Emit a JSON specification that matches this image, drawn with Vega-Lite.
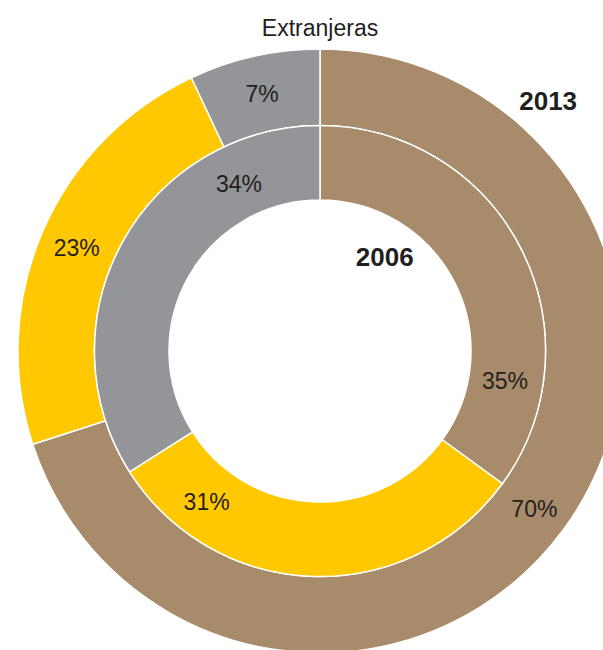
{
  "$schema": "https://vega.github.io/schema/vega-lite/v6.json",
  "autosize": {"type": "none"},
  "padding": 0,
  "width": 640,
  "height": 702,
  "background": "white",
  "config": {"view": {"stroke": null}},
  "datasets": {
    "y2013": [
      {"grupo": "Grupo 1", "pct": 70},
      {"grupo": "Grupo 2", "pct": 23},
      {"grupo": "Grupo 3", "pct": 7}
    ],
    "y2006": [
      {"grupo": "Grupo 1", "pct": 35},
      {"grupo": "Grupo 2", "pct": 31},
      {"grupo": "Grupo 3", "pct": 34}
    ],
    "titles": [{"t": "Extranjeras"}],
    "l2013": [{"t": "2013"}],
    "l2006": [{"t": "2006"}]
  },
  "layer": [
    {
      "data": {"name": "y2013"},
      "mark": {"type": "arc", "radius": 302, "radius2": 225.5, "stroke": "white", "strokeWidth": 1.5},
      "encoding": {
        "theta": {"field": "pct", "type": "quantitative", "stack": true, "scale": {"domain": [0, 100]}},
        "order": {"field": "grupo", "type": "nominal"},
        "color": {"field": "grupo", "type": "nominal", "legend": null,
          "scale": {"domain": ["Grupo 1", "Grupo 2", "Grupo 3"], "range": ["#A88B6A", "#FFC800", "#939598"]}}
      }
    },
    {
      "data": {"name": "y2006"},
      "mark": {"type": "arc", "radius": 225.5, "radius2": 151, "stroke": "white", "strokeWidth": 1.5},
      "encoding": {
        "theta": {"field": "pct", "type": "quantitative", "stack": true, "scale": {"domain": [0, 100]}},
        "order": {"field": "grupo", "type": "nominal"},
        "color": {"field": "grupo", "type": "nominal", "legend": null,
          "scale": {"domain": ["Grupo 1", "Grupo 2", "Grupo 3"], "range": ["#A88B6A", "#FFC800", "#939598"]}}
      }
    },
    {
      "data": {"name": "y2013"},
      "transform": [{"calculate": "datum.pct + '%'", "as": "lbl"}],
      "mark": {"type": "text", "radius": 265, "dy": 3, "font": "Liberation Sans", "fontSize": 23, "color": "#231F20"},
      "encoding": {
        "theta": {"field": "pct", "type": "quantitative", "stack": true, "scale": {"domain": [0, 100]}},
        "order": {"field": "grupo", "type": "nominal"},
        "text": {"field": "lbl"}
      }
    },
    {
      "data": {"name": "y2006"},
      "transform": [{"calculate": "datum.pct + '%'", "as": "lbl"}],
      "mark": {"type": "text", "radius": 187, "dy": 3, "thetaOffset": 0.62, "font": "Liberation Sans", "fontSize": 23, "color": "#231F20"},
      "encoding": {
        "theta": {"field": "pct", "type": "quantitative", "stack": true, "scale": {"domain": [0, 100]}},
        "order": {"field": "grupo", "type": "nominal"},
        "text": {"field": "lbl"}
      }
    },
    {
      "data": {"name": "titles"},
      "mark": {"type": "text", "theta": 0, "radius": 322, "font": "Liberation Sans", "fontSize": 23, "color": "#231F20"},
      "encoding": {"text": {"field": "t"}}
    },
    {
      "data": {"name": "l2013"},
      "mark": {"type": "text", "theta": 0.741, "radius": 338, "font": "Liberation Sans", "fontWeight": "bold", "fontSize": 26, "color": "#231F20"},
      "encoding": {"text": {"field": "t"}}
    },
    {
      "data": {"name": "l2006"},
      "mark": {"type": "text", "theta": 0.61, "radius": 113, "font": "Liberation Sans", "fontWeight": "bold", "fontSize": 26, "color": "#231F20"},
      "encoding": {"text": {"field": "t"}}
    }
  ]
}
